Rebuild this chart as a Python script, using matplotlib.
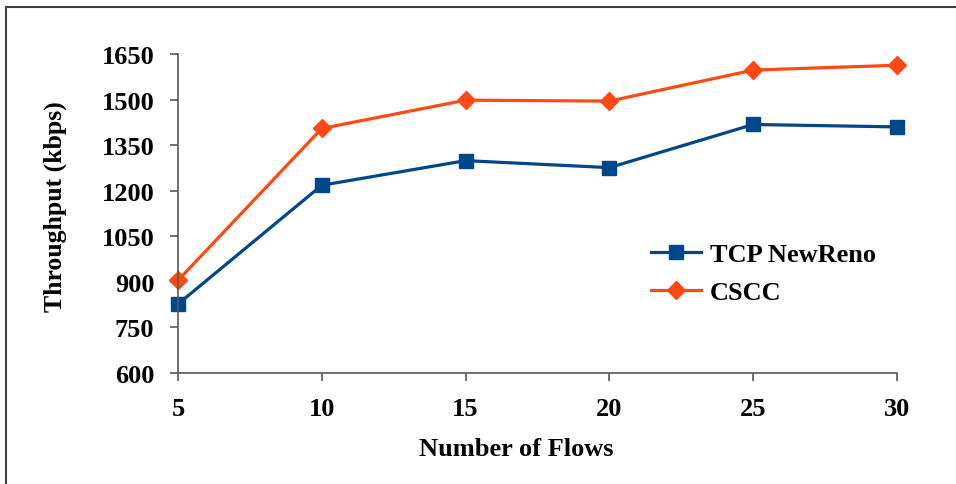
import matplotlib.pyplot as plt
from matplotlib.patches import Rectangle

# data
flows = [5, 10, 15, 20, 25, 30]
newreno = [827, 1218, 1299, 1276, 1418, 1410]
cscc = [905, 1405, 1498, 1495, 1597, 1613]
y_ticks = [600, 750, 900, 1050, 1200, 1350, 1500, 1650]

plt.rcParams['font.family'] = ['Liberation Serif', 'DejaVu Serif']
plt.rcParams['font.weight'] = 'bold'

fig = plt.figure(figsize=(9.56, 4.85), dpi=100)
ax = fig.add_axes([178 / 956, 1 - 374 / 485, (897 - 178) / 956, (374 - 55) / 485])

# frame around the chart area (only left/top visible in the reference)
fig.patches.append(Rectangle((6 / 956, -0.1), 1.2, 1 - 8 / 485 + 0.1, transform=fig.transFigure,
                             fill=False, edgecolor='#404040', linewidth=1.5))

ax.plot(flows, newreno, color='#00468B', linewidth=2.3, marker='s', markersize=10.5,
        label='TCP NewReno', clip_on=False)
ax.plot(flows, cscc, color='#FF4A14', linewidth=2.3, marker='D', markersize=9,
        label='CSCC', clip_on=False)

ax.set_xlim(5, 30)
ax.set_ylim(600, 1650)
ax.set_xticks(flows)
ax.set_yticks(y_ticks)

for side in ['top', 'right']:
    ax.spines[side].set_visible(False)
for side in ['left', 'bottom']:
    ax.spines[side].set_color('#595959')
    ax.spines[side].set_linewidth(1.2)

ax.tick_params(axis='both', direction='out', length=6, width=1.2, color='#595959',
               labelsize=19, pad=11)

ax.set_xlabel('Number of Flows', fontsize=19, fontweight='bold', va='center')
ax.xaxis.set_label_coords(0.470, -0.236)
ax.set_ylabel('Throughput (kbps)', fontsize=18.5, fontweight='bold', va='center')
ax.yaxis.set_label_coords(-0.170, 0.5235)

ax.legend(loc='upper left', bbox_to_anchor=(0.6245, 0.483), frameon=False, fontsize=19,
          handlelength=1.9, handletextpad=0.33, labelspacing=0.54)

fig.savefig('out.png', dpi=100)
